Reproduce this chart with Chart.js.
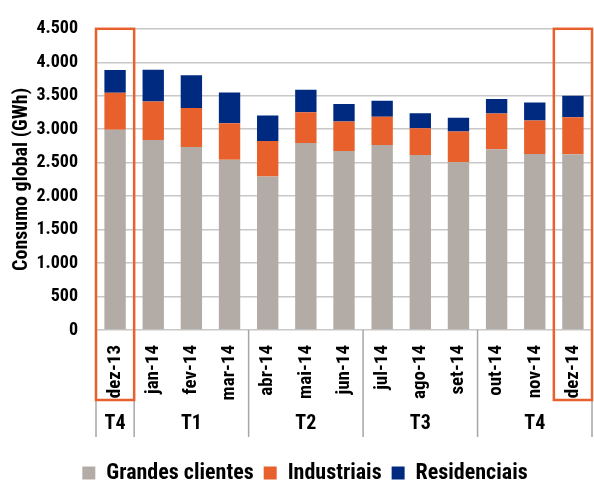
<!DOCTYPE html>
<html>
<head>
<meta charset="utf-8">
<script src="https://cdn.jsdelivr.net/npm/chart.js@4"></script>
<style>
  html, body { margin: 0; padding: 0; background: #fff; }
  #wrap { width: 594px; height: 484px; }
</style>
</head>
<body>
<div id="wrap"><canvas id="chart"></canvas></div>
<script>
const months = ['dez-13', 'jan-14', 'fev-14', 'mar-14', 'abr-14', 'mai-14', 'jun-14',
                'jul-14', 'ago-14', 'set-14', 'out-14', 'nov-14', 'dez-14'];
const grandes = [2990, 2840, 2735, 2545, 2295, 2795, 2675, 2765, 2615, 2505, 2700, 2630, 2625];
const industriais = [555, 575, 580, 545, 530, 460, 440, 420, 400, 460, 535, 500, 555];
const residenciais = [340, 475, 490, 460, 380, 335, 260, 240, 225, 205, 215, 270, 320];
const quarters = ['T4', 'T1', 'T2', 'T3', 'T4'];
const quarterSizes = [1, 3, 3, 3, 3];
const highlighted = [0, 12];

const FONT = "'Roboto Condensed', 'Liberation Sans', sans-serif";

// thousands with a dot, like 4.500
const fmt = v => v >= 1000 ? Math.floor(v / 1000) + '.' + String(v % 1000).padStart(3, '0') : String(v);

// quarter labels, separators and the orange boxes
const extras = {
  id: 'extras',
  afterLayout(chart) {
    // nudge the legend a little lower and to the right
    chart.legend.top += 10;
    chart.legend.bottom += 10;
    chart.legend.left += 9;
    chart.legend.right += 9;
  },
  afterDraw(chart) {
    const { ctx, chartArea } = chart;
    const x = chart.scales.x;
    const step = x.getPixelForValue(1) - x.getPixelForValue(0);
    const edge = i => x.getPixelForValue(i) - step / 2;
    const bottom = chartArea.bottom + 107;

    ctx.save();
    ctx.strokeStyle = '#a6a6a6';
    ctx.lineWidth = 1.5;
    let idx = 0;
    const cuts = [0];
    quarterSizes.forEach(n => { idx += n; cuts.push(idx); });
    cuts.forEach(c => {
      ctx.beginPath();
      ctx.moveTo(edge(c), chartArea.bottom);
      ctx.lineTo(edge(c), bottom);
      ctx.stroke();
    });

    ctx.fillStyle = '#000';
    ctx.font = 'bold 20px ' + FONT;
    ctx.textAlign = 'center';
    ctx.textBaseline = 'middle';
    quarters.forEach((q, i) => {
      const mid = (edge(cuts[i]) + edge(cuts[i + 1])) / 2;
      ctx.fillText(q, mid, chartArea.bottom + 94);
    });

    ctx.strokeStyle = '#e8602c';
    ctx.lineWidth = 2.5;
    highlighted.forEach(i => {
      const l = edge(i), r = Math.min(edge(i + 1), chart.width - 1.5);
      ctx.strokeRect(l, chartArea.top, r - l, chartArea.bottom + 70 - chartArea.top);
    });
    ctx.restore();
  }
};

new Chart(document.getElementById('chart'), {
  type: 'bar',
  data: {
    labels: months,
    datasets: [
      { label: 'Grandes clientes', data: grandes, backgroundColor: '#b3aca6' },
      { label: 'Industriais', data: industriais, backgroundColor: '#e8602c' },
      { label: 'Residenciais', data: residenciais, backgroundColor: '#002a80' }
    ]
  },
  options: {
    responsive: true,
    maintainAspectRatio: false,
    animation: false,
    layout: { padding: { top: 24, right: 2, left: 0, bottom: 0 } },
    datasets: { bar: { barPercentage: 0.56, categoryPercentage: 1 } },
    scales: {
      x: {
        stacked: true,
        grid: { display: false },
        border: { display: false },
        ticks: {
          color: '#000',
          font: { family: FONT, size: 19, weight: 'bold' },
          minRotation: 90,
          maxRotation: 90,
          padding: 7,
          autoSkip: false
        },
        afterFit(scale) {
          scale.height = 112;
          scale.paddingLeft = 0;
          scale.paddingRight = 0;
        }
      },
      y: {
        stacked: true,
        min: 0,
        max: 4500,
        border: { display: false },
        grid: { color: '#c8c8c8', lineWidth: 1.5, drawTicks: false },
        ticks: {
          stepSize: 500,
          color: '#000',
          padding: 18,
          font: { family: FONT, size: 18, weight: 'bold' },
          callback: v => fmt(v)
        },
        title: {
          display: true,
          text: 'Consumo global (GWh)',
          color: '#000',
          font: { family: FONT, size: 20, weight: 'bold' },
          padding: { top: 10, bottom: 0 }
        },
        afterFit(scale) {
          scale.width = 96;
        }
      }
    },
    plugins: {
      legend: {
        position: 'bottom',
        labels: {
          boxWidth: 13,
          boxHeight: 13,
          padding: 10,
          color: '#000',
          font: { family: FONT, size: 22, weight: 'bold' }
        }
      },
      tooltip: { enabled: false }
    }
  },
  plugins: [extras]
});
</script>
</body>
</html>
